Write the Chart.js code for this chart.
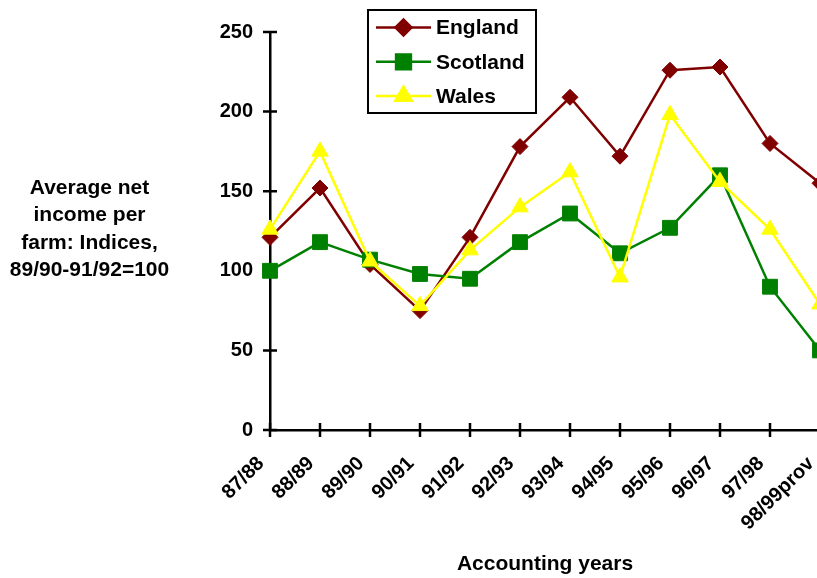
<!DOCTYPE html>
<html>
<head>
<meta charset="utf-8">
<title>Average net income per farm</title>
<script src="https://cdn.jsdelivr.net/npm/chart.js@4/dist/chart.umd.min.js"></script>
<style>
  html, body { margin: 0; padding: 0; background: #fff; overflow: hidden; width: 817px; height: 578px; }
  #wrap { position: relative; width: 840px; height: 578px; }
  canvas { display: block; }
</style>
</head>
<body>
<div id="wrap"><canvas id="chart" width="840" height="578"></canvas></div>
<script>
// Accounting years and income indices (89/90-91/92 = 100)
const years = ['87/88', '88/89', '89/90', '90/91', '91/92', '92/93', '93/94', '94/95', '95/96', '96/97', '97/98', '98/99prov'];
const england = [121, 152, 104, 75, 121, 178, 209, 172, 226, 228, 180, 155];
const scotland = [100, 118, 107, 98, 95, 118, 136, 111, 127, 160, 90, 50];
const wales = [126, 175, 106, 78, 113, 140, 162, 96, 198, 156, 126, 79];
const yTicks = [0, 50, 100, 150, 200, 250];
const seriesNames = ['England', 'Scotland', 'Wales'];
const yTitleLines = ['Average net', 'income per', 'farm: Indices,', '89/90-91/92=100'];
const xTitle = 'Accounting years';

const FONT = '"Liberation Sans", Arial, Helvetica, sans-serif';

// crossing tick marks on both axes, legend box and the horizontal y-axis caption
const decor = {
  id: 'decor',
  beforeDatasetsDraw(chart) {
    const ctx = chart.ctx;
    const xs = chart.scales.x, ys = chart.scales.y;
    const area = chart.chartArea;
    ctx.save();
    ctx.strokeStyle = '#000';
    ctx.lineWidth = 2.5;
    ctx.beginPath();
    ys.ticks.forEach((t, i) => {
      const py = ys.getPixelForTick(i);
      ctx.moveTo(area.left - 7, py);
      ctx.lineTo(area.left + 7, py);
    });
    xs.ticks.forEach((t, i) => {
      const px = xs.getPixelForTick(i);
      ctx.moveTo(px, area.bottom - 7);
      ctx.lineTo(px, area.bottom + 7);
    });
    ctx.stroke();
    ctx.restore();
  },
  afterDraw(chart) {
    const ctx = chart.ctx;
    ctx.save();
    // y-axis caption, set horizontally
    ctx.fillStyle = '#000';
    ctx.font = 'bold 21px ' + FONT;
    ctx.textAlign = 'center';
    ctx.textBaseline = 'middle';
    yTitleLines.forEach((line, i) => ctx.fillText(line, 89.5, 188 + i * 27.5));

    // legend
    const box = { x: 368, y: 10, w: 168, h: 103 };
    ctx.fillStyle = '#fff';
    ctx.fillRect(box.x, box.y, box.w, box.h);
    ctx.strokeStyle = '#000';
    ctx.lineWidth = 2;
    ctx.strokeRect(box.x, box.y, box.w, box.h);
    ctx.font = 'bold 21px ' + FONT;
    ctx.textAlign = 'left';
    chart.data.datasets.forEach((ds, i) => {
      const cy = 27.5 + i * 34.3;
      ctx.strokeStyle = ds.borderColor;
      ctx.lineWidth = ds.borderWidth;
      ctx.beginPath();
      ctx.moveTo(376, cy);
      ctx.lineTo(431, cy);
      ctx.stroke();
      ctx.fillStyle = ds.backgroundColor;
      ctx.strokeStyle = ds.borderColor;
      Chart.helpers.drawPoint(ctx, {
        pointStyle: ds.pointStyle, radius: ds.pointRadius, rotation: 0, borderWidth: 1
      }, 403.5, cy);
      ctx.fillStyle = '#000';
      ctx.fillText(ds.label, 436, cy + 1);
    });
    ctx.restore();
  }
};

const palette = { England: '#800000', Scotland: '#008000', Wales: '#FFFF00' };
const markers = { England: ['rectRot', 8], Scotland: ['rect', 10.5], Wales: ['triangle', 9.5] };
const values = { England: england, Scotland: scotland, Wales: wales };
const drawOrder = { England: 2, Scotland: 1, Wales: 0 };

const datasets = seriesNames.map(name => ({
  label: name,
  data: values[name],
  borderColor: palette[name],
  backgroundColor: palette[name],
  borderWidth: 2.5,
  pointStyle: markers[name][0],
  pointRadius: markers[name][1],
  pointHoverRadius: markers[name][1],
  pointBorderWidth: 1,
  pointBackgroundColor: palette[name],
  pointBorderColor: palette[name],
  tension: 0,
  clip: false,
  order: drawOrder[name]
}));

new Chart(document.getElementById('chart'), {
  type: 'line',
  data: { labels: years, datasets },
  options: {
    responsive: false,
    animation: false,
    events: [],
    layout: { padding: { left: 200, top: 32, right: 20, bottom: 0 } },
    plugins: { legend: { display: false }, tooltip: { enabled: false } },
    scales: {
      x: {
        type: 'category',
        offset: false,
        grid: { display: false, drawTicks: false },
        border: { display: true, color: '#000', width: 2.5 },
        ticks: {
          autoSkip: false, minRotation: 45, maxRotation: 45,
          padding: 22, labelOffset: -9, color: '#000',
          font: { family: FONT, size: 20, weight: 'bold' }
        },
        title: {
          display: true, text: xTitle, color: '#000',
          font: { family: FONT, size: 21, weight: 'bold' },
          padding: { top: 0, bottom: 1 }
        },
        afterFit(s) { s.height = 148; s.paddingLeft = 0; s.paddingRight = 0; }
      },
      y: {
        min: 0, max: 250,
        afterBuildTicks(s) { s.ticks = yTicks.map(v => ({ value: v })); },
        grid: { display: false, drawTicks: false },
        border: { display: true, color: '#000', width: 2.5 },
        ticks: {
          padding: 17, color: '#000',
          font: { family: FONT, size: 20, weight: 'bold' }
        },
        afterFit(s) { s.width = 70; }
      }
    }
  },
  plugins: [decor]
});
</script>
</body>
</html>
